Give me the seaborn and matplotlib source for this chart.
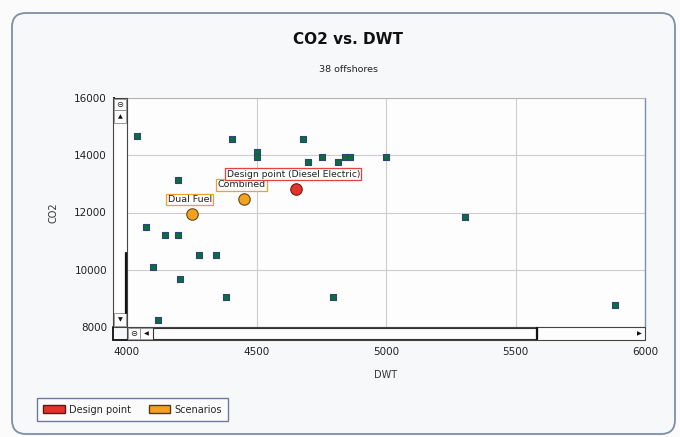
import matplotlib
matplotlib.use("Agg")
import matplotlib.pyplot as plt
import seaborn as sns
import pandas as pd
from matplotlib.patches import Rectangle, FancyBboxPatch, Patch
from matplotlib.lines import Line2D

# offshore vessels (DWT, CO2)
offshore_dwt = [4040, 4407, 4680, 4500, 4500, 4700, 4751, 4813, 4841, 4860, 5000, 4196,
                4072, 4148, 4196, 4277, 4343, 4099, 4206, 4382, 4119, 4797, 5306, 5886]
offshore_co2 = [14670, 14565, 14565, 14100, 13940, 13750, 13940, 13750, 13940, 13940, 13940, 13120,
                11500, 11225, 11225, 10520, 10520, 10090, 9690, 9040, 8240, 9040, 11840, 8760]

scenario_names = ["Dual Fuel", "Combined"]
scenario_dwt = [4250, 4450]
scenario_co2 = [11950, 12460]

design_name = "Design point (Diesel Electric)"
design_dwt = [4651]
design_co2 = [12830]

x_ticks = [4000, 4500, 5000, 5500, 6000]
y_ticks = [8000, 10000, 12000, 14000, 16000]

sns.set_theme(style="white")
plt.rcParams["font.family"] = ["DejaVu Sans"]

W, H = 680, 437
fig = plt.figure(figsize=(W / 100, H / 100), dpi=100)
fig.patch.set_facecolor("#fbfbfc")


def fx(x):
    return x / W


def fy(y):
    return 1 - y / H


# outer rounded panel (behind everything)
panel = FancyBboxPatch((0.12, 0.03), 6.63, 4.21, boxstyle="round,pad=0,rounding_size=0.14",
                       transform=fig.dpi_scale_trans, facecolor="#f7f8f9",
                       edgecolor="#7d8ea6", linewidth=1.3, zorder=-10)
fig.add_artist(panel)

ax = fig.add_axes([fx(127), fy(327), fx(645) - fx(127), fy(98) - fy(327)])
ax.set_facecolor("#fdfdfd")

off = pd.DataFrame({"DWT": offshore_dwt, "CO2": offshore_co2})
scen = pd.DataFrame({"DWT": scenario_dwt, "CO2": scenario_co2, "name": scenario_names})
des = pd.DataFrame({"DWT": design_dwt, "CO2": design_co2})

sns.scatterplot(data=off, x="DWT", y="CO2", ax=ax, marker="s", s=19,
                color="#0a6c42", edgecolor="#2f4472", linewidth=0.8, zorder=3)
sns.scatterplot(data=scen, x="DWT", y="CO2", ax=ax, marker="o", s=68,
                color="#f4a321", edgecolor="#6a4616", linewidth=0.8, zorder=4)
sns.scatterplot(data=des, x="DWT", y="CO2", ax=ax, marker="o", s=68,
                color="#e5332a", edgecolor="#6e1a14", linewidth=0.8, zorder=4)

# labels
label_offsets = {"Dual Fuel": (-24, 10), "Combined": (-26, 10)}
for name, xv, yv in zip(scenario_names, scenario_dwt, scenario_co2):
    ax.annotate(name, (xv, yv), xytext=label_offsets[name], textcoords="offset pixels",
                fontsize=6.8, ha="left", va="bottom", color="#222222", zorder=5,
                bbox=dict(boxstyle="square,pad=0.15", facecolor="#fdfdfd",
                          edgecolor="#f0a030", linewidth=0.9))
ax.annotate(design_name, (design_dwt[0], design_co2[0]), xytext=(-69, 10),
            textcoords="offset pixels", fontsize=6.6, ha="left", va="bottom",
            color="#222222", zorder=5,
            bbox=dict(boxstyle="square,pad=0.15", facecolor="#fdfdfd",
                      edgecolor="#e84040", linewidth=0.9))

ax.set_xlim(4000, 6000)
ax.set_ylim(8000, 16000)
ax.set_xticks(x_ticks)
ax.set_yticks(y_ticks)
ax.grid(True, color="#cdcdcd", linewidth=0.8)
ax.set_axisbelow(True)
ax.set_xlabel("DWT", fontsize=7, color="#333333", labelpad=9)
ax.set_ylabel("CO2", fontsize=7, color="#333333", labelpad=11)

for side in ["left", "bottom"]:
    ax.spines[side].set_position(("outward", 9.4))
    ax.spines[side].set_color("#1e1e1e")
    ax.spines[side].set_linewidth(1.4)
ax.spines["top"].set_color("#b4b4b4")
ax.spines["top"].set_linewidth(0.8)
ax.spines["right"].set_color("#7f90b0")
ax.spines["right"].set_linewidth(1.0)
ax.tick_params(direction="out", length=3, width=0.8, colors="#333333",
               labelsize=7.5, pad=2)
for lab in ax.get_xticklabels() + ax.get_yticklabels():
    lab.set_color("#222222")


def rect(x0, y0, x1, y1, face="#fdfdfd", edge="#333333", lw=0.8, z=6):
    r = Rectangle((fx(x0), fy(y1)), fx(x1) - fx(x0), fy(y0) - fy(y1),
                  transform=fig.transFigure, facecolor=face, edgecolor=edge,
                  linewidth=lw, zorder=z)
    fig.add_artist(r)


def glyph(x, y, s, size=5):
    fig.text(fx(x), fy(y), s, fontsize=size, ha="center", va="center", color="#111111", zorder=8)


# vertical scroll bar
rect(113, 98, 127, 327, edge="#444444")
rect(114, 99, 126, 110, edge="#888888", lw=0.6)
glyph(120, 104.5, "\u229d", 6)
rect(114, 110, 126, 123, edge="#888888", lw=0.6)
glyph(120, 116.5, "\u25b2", 4.5)
rect(114, 313, 126, 326, edge="#888888", lw=0.6)
glyph(120, 319.5, "\u25bc", 4.5)
fig.add_artist(Line2D([fx(125.5), fx(125.5)], [fy(253), fy(313)], transform=fig.transFigure,
                      color="#111111", linewidth=1.6, zorder=7))

# horizontal scroll bar
rect(127, 327, 645, 340, edge="#444444")
rect(128, 328, 140, 339, edge="#888888", lw=0.6)
glyph(134, 333.5, "\u229d", 6)
rect(140, 328, 153, 339, edge="#888888", lw=0.6)
glyph(146.5, 333.5, "\u25c0", 4.5)
rect(153, 328, 537, 339, edge="#333333", lw=0.8)
fig.add_artist(Line2D([fx(537), fx(537)], [fy(328), fy(339)], transform=fig.transFigure,
                      color="#111111", linewidth=1.6, zorder=7))
glyph(639, 333.5, "\u25b6", 4.5)
fig.add_artist(Line2D([fx(113), fx(113)], [fy(327), fy(340)], transform=fig.transFigure,
                      color="#1e1e1e", linewidth=1.4, zorder=7))
fig.add_artist(Line2D([fx(113), fx(127)], [fy(340), fy(340)], transform=fig.transFigure,
                      color="#1e1e1e", linewidth=1.4, zorder=7))

fig.text(fx(348), fy(40), "CO2 vs. DWT", fontsize=11, fontweight="bold",
         ha="center", va="center", color="#111111")
fig.text(fx(349), fy(70), "38 offshores", fontsize=6.8, ha="center", va="center",
         color="#222222")

handles = [Patch(facecolor="#e8302a", edgecolor="#5a1a1a", label="Design point"),
           Patch(facecolor="#f5a01e", edgecolor="#5a3a10", label="Scenarios")]
leg = fig.legend(handles=handles, loc="lower left", bbox_to_anchor=(fx(37), fy(421)),
                 ncol=2, fontsize=7, frameon=True, fancybox=False, borderpad=0.65,
                 handlelength=2.2, handleheight=0.9, columnspacing=1.9, handletextpad=0.4,
                 borderaxespad=0)
leg.get_frame().set_edgecolor("#4a5a84")
leg.get_frame().set_facecolor("#fdfdfd")
leg.get_frame().set_linewidth(1.0)

fig.savefig("out.png", dpi=100, facecolor=fig.get_facecolor())
